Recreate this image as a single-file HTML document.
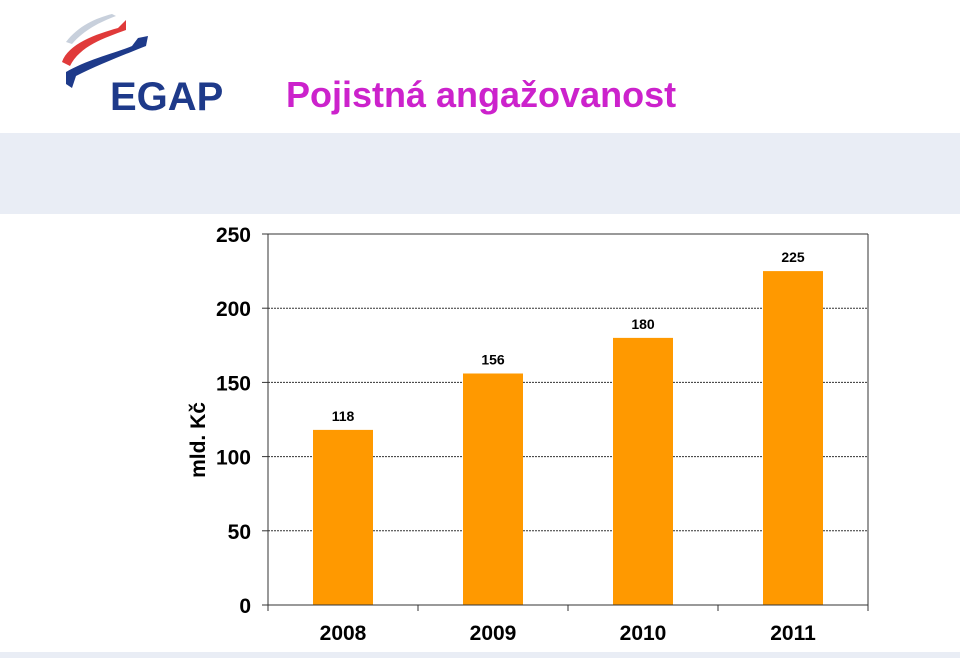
<!DOCTYPE html>
<html><head><meta charset="utf-8"><style>
body{margin:0;width:960px;height:658px;background:#fff;overflow:hidden;font-family:"Liberation Sans",sans-serif;position:relative}
</style></head><body>
<svg width="960" height="658" style="position:absolute;left:0;top:0">
<g>
<path d="M66,42 C78,26 96,18 112,14 L116,16 C100,22 84,30 72,44 Z" fill="#c8d0dc"/>
<path d="M62,62 C68,44 96,34 118,28 L126,20 L126,30 C104,38 80,46 70,66 Z" fill="#e03a3a"/>
<path d="M66,72 C86,60 118,52 132,46 L138,38 L148,36 L146,46 C126,54 100,64 76,76 L72,88 L66,84 Z" fill="#1e3a8a"/>
<text x="110" y="110" font-size="40" font-weight="bold" fill="#1e3a8a">EGAP</text>
</g>
<text x="286" y="107" font-size="36" font-weight="bold" fill="#cc22cc">Pojistná angažovanost</text>
<rect x="0" y="133" width="960" height="81" fill="#e9edf5"/>
<rect x="0" y="652" width="960" height="6" fill="#e9edf5"/>
<g id="chart"></g>
</svg>
<script>
const categories=["2008","2009","2010","2011"];
const values=[118,156,180,225];
const ticks=[0,50,100,150,200,250];
(function(){
const L=268,R=868,T=234,B=605,max=250;
const y=v=>B-(v/max)*(B-T);
const bw=(R-L)/categories.length;
const x=i=>L+bw*i+bw/2;
const g=document.getElementById('chart');
const NS="http://www.w3.org/2000/svg";
function mk(t,a){const e=document.createElementNS(NS,t);for(const k in a)e.setAttribute(k,a[k]);g.appendChild(e);return e;}
ticks.forEach(t=>{
 if(t>0&&t<max){const l=mk('line',{x1:L,x2:R,y1:y(t),y2:y(t),stroke:'#333','stroke-width':1,'stroke-dasharray':'2,1'});
 
 }
 const tk=mk('line',{x1:L-6,x2:L,y1:y(t),y2:y(t),stroke:'#333'});
 
 
 const tx=mk('text',{x:251,y:y(t)+8,'text-anchor':'end','font-size':21,'font-weight':'bold',fill:'#000'});
 tx.textContent=t;
 
 
});
const topB=mk('line',{x1:L,x2:R,y1:T,y2:T,stroke:'#333'});


const rb=mk('line',{x1:R,x2:R,y1:T,y2:B,stroke:'#333'});


categories.forEach((c,i)=>{
 const h=mk('rect',{x:x(i)-30,y:y(values[i]),width:60,height:B-y(values[i]),fill:'#ff9900'});
 
 
 const v=mk('text',{x:x(i),y:y(values[i])-9,'text-anchor':'middle','font-size':14,'font-weight':'bold',fill:'#000'});
 v.textContent=values[i];
 
 
 const cl=mk('text',{x:x(i),y:640,'text-anchor':'middle','font-size':21,'font-weight':'bold',fill:'#000'});
 cl.textContent=c;
 
 
 const tk=mk('line',{x1:L+bw*(i+1),x2:L+bw*(i+1),y1:B,y2:B+6,stroke:'#333'});
 
 
});
const ax=mk('line',{x1:L,x2:L,y1:T,y2:B+6,stroke:'#333'});


const xa=mk('line',{x1:L,x2:R,y1:B,y2:B,stroke:'#333'});


const yt=mk('text',{x:0,y:0,transform:'translate(205,440) rotate(-90)','text-anchor':'middle','font-size':21,'font-weight':'bold',fill:'#000'});
yt.textContent='mld. Kč';


})();
</script>
</body></html>
